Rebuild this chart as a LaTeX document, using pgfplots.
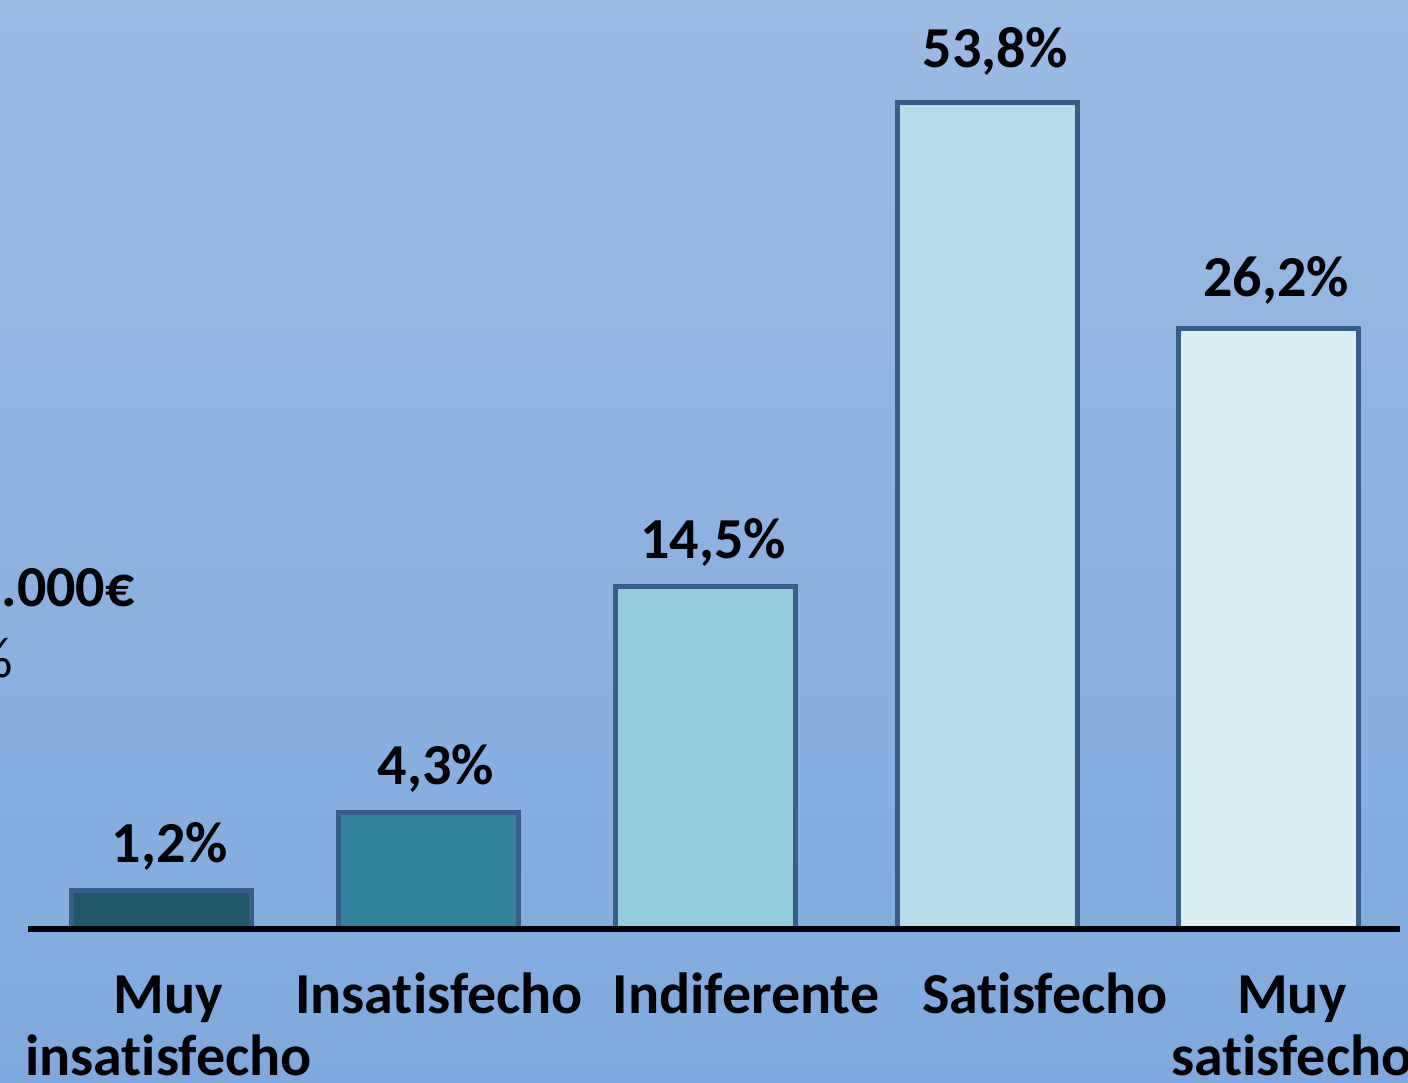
\documentclass[border=0pt]{standalone}
\usepackage{pgfplots}
\pgfplotsset{compat=1.18}
\usepackage{fontspec}
\setmainfont[Ligatures={NoCommon}]{Carlito}
\definecolor{bgtop}{RGB}{155,187,229}
\definecolor{bgbot}{RGB}{127,169,222}
\definecolor{edge}{RGB}{56,93,138}
\definecolor{c1}{RGB}{33,88,104}
\definecolor{c2}{RGB}{49,132,155}
\definecolor{c3}{RGB}{147,205,221}
\definecolor{c4}{RGB}{183,222,232}
\definecolor{c5}{RGB}{219,238,244}
\begin{document}
\begin{tikzpicture}
\useasboundingbox (0,0) rectangle (704pt,541pt);
\clip (0,0) rectangle (704pt,541pt);
\shade[top color=bgtop,bottom color=bgbot] (0,0) rectangle (704pt,541pt);
\node[anchor=base east,font=\bfseries\fontsize{29}{31}\selectfont,inner sep=0pt] at (67.5pt,237.5pt) {.000€};
\node[anchor=base east,font=\fontsize{29}{31}\selectfont,inner sep=0pt] at (6.5pt,202pt) {\%};
\begin{axis}[
  at={(14pt,76.5pt)}, anchor=south west,
  scale only axis, width=686pt, height=464.5pt,
  xmin=-0.4629, xmax=4.499, ymin=0, ymax=66.435,
  y coord trafo/.code={\pgfmathparse{(#1<=1.2) ? (32.5*#1) : ((#1<=4.3) ? (39+24.84*(#1-1.2)) : ((#1<=14.5) ? (116+22.25*(#1-4.3)) : ((#1<=26.2) ? (343+22.05*(#1-14.5)) : (601+8.152*(#1-26.2)))))}},
  axis x line*=bottom, axis y line=none,
  x axis line style={black, line width=2.6pt},
  axis on top,
  clip=false,
  ytick=\empty,
  xtick={0.045,1.0235,2.134,3.215,4.108},
  xticklabels={{\begin{tabular}[t]{@{}c@{}}Muy\\insatisfecho\end{tabular}},Insatisfecho,Indiferente,Satisfecho,{\begin{tabular}[t]{@{}c@{}}Muy\\satisfecho\end{tabular}}},
  major tick length=0pt,
  xticklabel style={font=\bfseries\fontsize{29}{31}\selectfont, anchor=base, yshift=-42pt, inner sep=0pt},
  ybar, bar width=90pt, bar shift=0pt,
  every axis plot/.append style={draw=edge, line width=2.5pt},
  nodes near coords style={font=\bfseries\fontsize{29}{31}\selectfont, anchor=base, yshift=14pt, xshift=4pt, inner sep=0pt, black},
]
\addplot[fill=c1, nodes near coords={1,2\%}] coordinates {(0.0217,1.2)};
\addplot[fill=c2, nodes near coords={4,3\%}] coordinates {(0.9837,4.3)};
\addplot[fill=c3, nodes near coords={14,5\%}] coordinates {(1.9855,14.5)};
\addplot[fill=c4, nodes near coords={53,8\%}, nodes near coords style={yshift=3.5pt}] coordinates {(3.0072,53.8)};
\addplot[fill=c5, nodes near coords={26,2\%}, nodes near coords style={yshift=2pt}] coordinates {(4.0217,26.2)};
\end{axis}
\end{tikzpicture}
\end{document}
